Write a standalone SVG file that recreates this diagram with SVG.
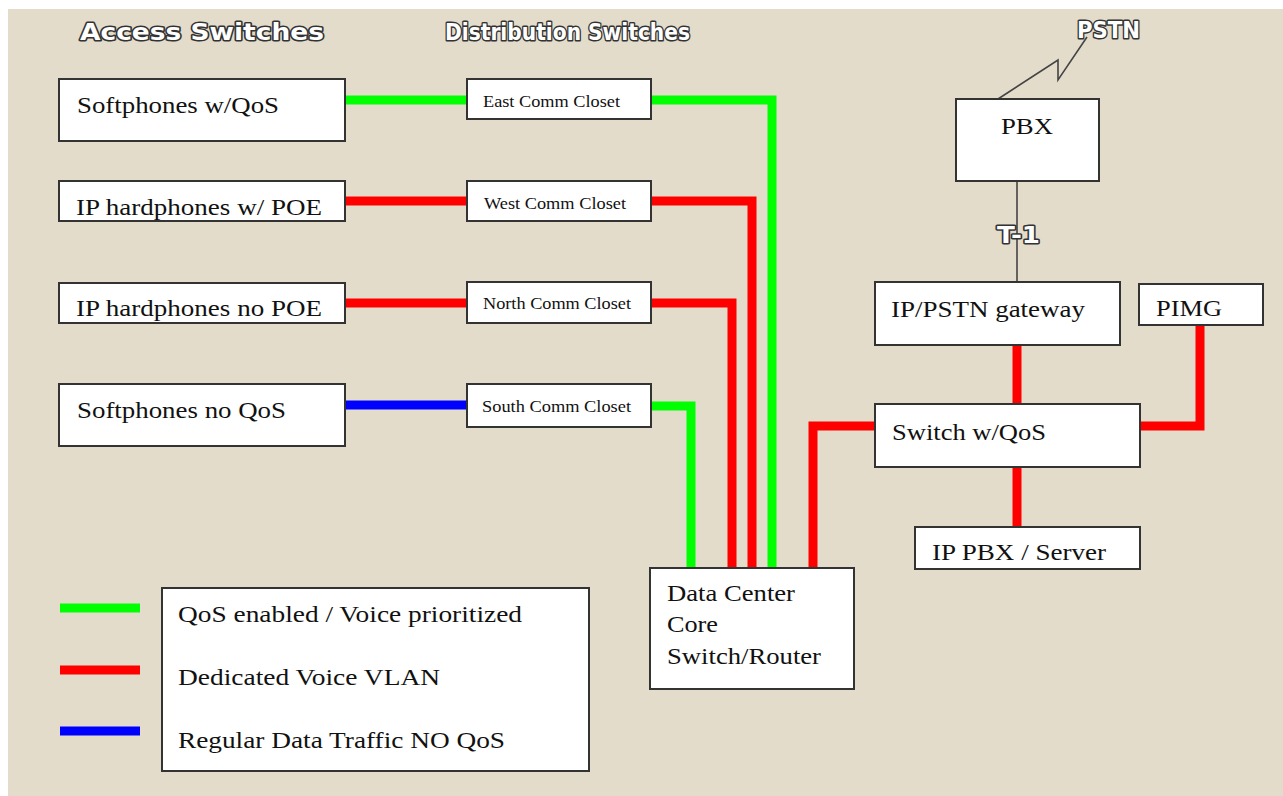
<svg xmlns="http://www.w3.org/2000/svg" width="1283" height="796" viewBox="0 0 1283 796">
<style>
.box{fill:#fff;stroke:#333;stroke-width:2}
.t{font-family:"Liberation Serif",serif;font-size:24px;fill:#111}
.ts{font-family:"Liberation Serif",serif;font-size:17px;fill:#111}
.hd{font-family:"DejaVu Sans","Liberation Sans",sans-serif;font-weight:bold;font-size:23px;fill:#fff;stroke:#333;stroke-width:3;paint-order:stroke;stroke-linejoin:round}
.g{fill:none;stroke:#00ff00;stroke-width:9}
.r{fill:none;stroke:#ff0000;stroke-width:9}
.b{fill:none;stroke:#0000ff;stroke-width:9}
.thin{fill:none;stroke:#444;stroke-width:1.6}
</style>
<rect x="0" y="0" width="1283" height="796" fill="#fff"/>
<rect x="8" y="9" width="1275" height="787" fill="#e3dccb"/>

<g id="headers">
<text class="hd" x="80" y="40" textLength="244" lengthAdjust="spacingAndGlyphs">Access Switches</text>
<text class="hd" x="445" y="40" textLength="245" lengthAdjust="spacingAndGlyphs">Distribution Switches</text>
<text class="hd" x="1077" y="38" textLength="63" lengthAdjust="spacingAndGlyphs">PSTN</text>
</g>

<g id="connectors">
<path class="g" d="M345,100 H467"/>
<path class="g" d="M651,100 H772 V568"/>
<path class="r" d="M345,201 H467"/>
<path class="r" d="M651,201 H752 V568"/>
<path class="r" d="M345,303 H467"/>
<path class="r" d="M651,303 H732 V568"/>
<path class="b" d="M345,405 H467"/>
<path class="g" d="M651,406 H691 V568"/>
<path class="r" d="M813,568 V426 H875"/>
<path class="r" d="M1017,345 V404"/>
<path class="r" d="M1017,467 V527"/>
<path class="r" d="M1140,426 H1200 V325"/>
<path class="thin" d="M1017,181 V282"/>
<path class="thin" d="M998,99 L1058,60 L1058,80 L1087,37"/>
<text class="hd" x="997" y="243" textLength="43" lengthAdjust="spacingAndGlyphs">T-1</text>
</g>

<g id="softphones-qos"><rect class="box" x="59" y="79" width="286" height="62"/><text class="t" x="77" y="113" textLength="202" lengthAdjust="spacingAndGlyphs">Softphones w/QoS</text></g>
<g id="hardphones-poe"><rect class="box" x="59" y="181" width="286" height="40"/><text class="t" x="76" y="215" textLength="246" lengthAdjust="spacingAndGlyphs">IP hardphones w/ POE</text></g>
<g id="hardphones-nopoe"><rect class="box" x="59" y="283" width="286" height="40"/><text class="t" x="76" y="316" textLength="246" lengthAdjust="spacingAndGlyphs">IP hardphones no POE</text></g>
<g id="softphones-noqos"><rect class="box" x="59" y="384" width="286" height="62"/><text class="t" x="77" y="418" textLength="209" lengthAdjust="spacingAndGlyphs">Softphones no QoS</text></g>

<g id="east"><rect class="box" x="467" y="79" width="184" height="40"/><text class="ts" x="483" y="107" textLength="137" lengthAdjust="spacingAndGlyphs">East Comm Closet</text></g>
<g id="west"><rect class="box" x="467" y="181" width="184" height="40"/><text class="ts" x="484" y="209" textLength="142" lengthAdjust="spacingAndGlyphs">West Comm Closet</text></g>
<g id="north"><rect class="box" x="467" y="282" width="184" height="41"/><text class="ts" x="483" y="309" textLength="148" lengthAdjust="spacingAndGlyphs">North Comm Closet</text></g>
<g id="south"><rect class="box" x="467" y="384" width="184" height="43"/><text class="ts" x="482" y="412" textLength="149" lengthAdjust="spacingAndGlyphs">South Comm Closet</text></g>

<g id="core"><rect class="box" x="650" y="568" width="204" height="121"/>
<text class="t" x="667" y="601" textLength="128" lengthAdjust="spacingAndGlyphs">Data Center</text>
<text class="t" x="667" y="632" textLength="51" lengthAdjust="spacingAndGlyphs">Core</text>
<text class="t" x="667" y="664" textLength="154" lengthAdjust="spacingAndGlyphs">Switch/Router</text></g>

<g id="pbx"><rect class="box" x="956" y="99" width="143" height="82"/><text class="t" x="1001" y="134" textLength="52" lengthAdjust="spacingAndGlyphs">PBX</text></g>
<g id="gateway"><rect class="box" x="875" y="282" width="245" height="63"/><text class="t" x="891" y="317" textLength="194" lengthAdjust="spacingAndGlyphs">IP/PSTN gateway</text></g>
<g id="pimg"><rect class="box" x="1139" y="284" width="124" height="41"/><text class="t" x="1156" y="316" textLength="66" lengthAdjust="spacingAndGlyphs">PIMG</text></g>
<g id="switch-qos"><rect class="box" x="875" y="404" width="265" height="63"/><text class="t" x="892" y="440" textLength="154" lengthAdjust="spacingAndGlyphs">Switch w/QoS</text></g>
<g id="ippbx"><rect class="box" x="915" y="527" width="225" height="42"/><text class="t" x="932" y="560" textLength="174" lengthAdjust="spacingAndGlyphs">IP PBX / Server</text></g>

<g id="legend">
<path class="g" d="M60,608 H140"/>
<path class="r" d="M60,670 H140"/>
<path class="b" d="M60,731 H140"/>
<rect class="box" x="162" y="588" width="427" height="183"/>
<text class="t" x="178" y="622" textLength="344" lengthAdjust="spacingAndGlyphs">QoS enabled / Voice prioritized</text>
<text class="t" x="178" y="685" textLength="262" lengthAdjust="spacingAndGlyphs">Dedicated Voice VLAN</text>
<text class="t" x="178" y="748" textLength="327" lengthAdjust="spacingAndGlyphs">Regular Data Traffic NO QoS</text>
</g>
</svg>
